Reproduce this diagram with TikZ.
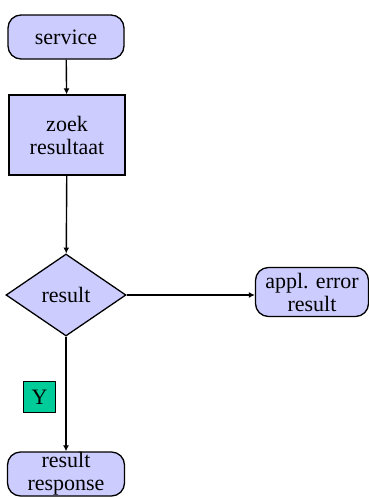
\documentclass[tikz,border=0pt]{standalone}
\usepackage{fontspec}
\setmainfont{Liberation Serif}
\usetikzlibrary{shapes.geometric,arrows.meta}
\definecolor{boxfill}{HTML}{CCCCFF}
\definecolor{tagfill}{HTML}{00CC99}
\tikzset{
  terminal/.style={draw, fill=boxfill, line width=1.3pt, rounded corners=13pt,
    minimum width=116pt, minimum height=44pt, inner sep=0pt, align=center},
  process/.style={draw, fill=boxfill, line width=1.3pt,
    minimum width=116pt, minimum height=80pt, inner sep=0pt, align=center},
  decision/.style={draw, fill=boxfill, diamond, line width=1.3pt,
    minimum width=120pt, minimum height=82pt, inner sep=0pt},
  tag/.style={draw, fill=tagfill, line width=1.1pt, minimum width=32pt,
    minimum height=31pt, inner sep=0pt},
  flow/.style={line width=1.4pt, -{Latex[length=6pt,width=6pt]}}
}
\begin{document}
\begin{tikzpicture}[x=1pt, y=-1pt, font=\fontsize{22}{23}\selectfont]
            \useasboundingbox (0,0) rectangle (369,499);
            \node[terminal] (service) at (66,37) {service};
            \node[process] (zoek) at (67,135) {zoek\\resultaat};
            \node[decision] (result) at (66,295) {result};
            \node[terminal, minimum width=113pt, minimum height=49pt] (error) at (312,292) {appl. error\\result};
            \node[terminal, minimum width=117pt] (response) at (66,474) {result\\response};
            \node[tag] (yes) at (39.5,397) {Y};
            \draw[flow] (service) -- (zoek);
            \draw[flow] (zoek) -- (result);
            \draw[flow] (result.east) -- (result.east -| error.west);
            \draw[flow] (result) -- (response);
        \end{tikzpicture}
\end{document}
